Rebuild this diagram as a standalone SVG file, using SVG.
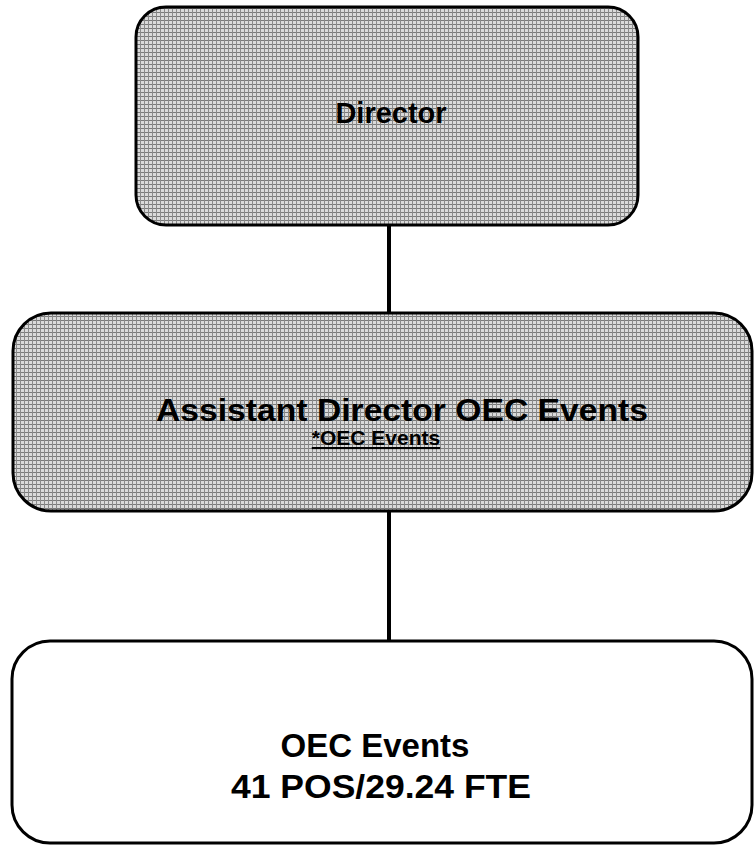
<svg xmlns="http://www.w3.org/2000/svg" width="754" height="850" viewBox="0 0 754 850">
<style>
.box{stroke:#000;stroke-width:3}
.hatch{fill:url(#ht)}
.plain{fill:#fff}
.t{font-family:"Liberation Sans",Arial,sans-serif;font-weight:bold;fill:#000;text-anchor:middle}
.conn{stroke:#000;stroke-width:4;fill:none}
</style>
<defs>
<pattern id="ht" width="4" height="4" patternUnits="userSpaceOnUse">
<rect width="4" height="4" fill="#dadada"/>
<rect x="0" y="0" width="4" height="1" fill="#7a7a7a"/>
<rect x="0" y="0" width="1" height="4" fill="#8a8a8a"/>
</pattern>
</defs>
<rect width="754" height="850" fill="#fff"/>
<g id="connectors">
<line class="conn" x1="389" y1="225" x2="389" y2="313"/>
<line class="conn" x1="389" y1="511" x2="389" y2="641"/>
</g>
<g id="director">
<rect class="box hatch" x="136" y="7" width="502" height="218" rx="30" ry="30"/>
<text class="t" x="391" y="123" font-size="29">Director</text>
</g>
<g id="assistant">
<rect class="box hatch" x="13" y="313" width="739" height="198" rx="38" ry="38"/>
<text class="t" x="402" y="421" font-size="32" textLength="492" lengthAdjust="spacingAndGlyphs">Assistant Director OEC Events</text>
<text class="t" x="376" y="445" font-size="21" text-decoration="underline">*OEC Events</text>
</g>
<g id="events">
<rect class="box plain" x="12" y="641" width="740" height="202" rx="38" ry="38"/>
<text class="t" x="375" y="757" font-size="33">OEC Events</text>
<text class="t" x="381" y="798" font-size="33" textLength="300" lengthAdjust="spacingAndGlyphs">41 POS/29.24 FTE</text>
</g>
</svg>
